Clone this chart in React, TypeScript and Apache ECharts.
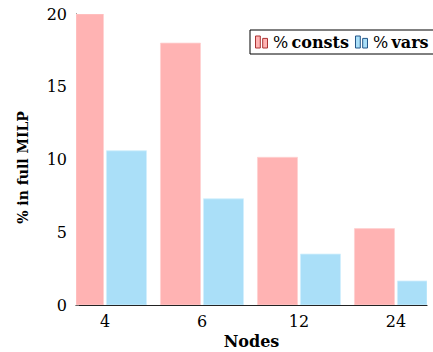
import React, { useEffect, useRef } from "react";
import * as echarts from "echarts";

const categories = ["4", "6", "12", "24"];
const constsValues = [20, 18, 10.15, 5.25];
const varsValues = [10.6, 7.3, 3.5, 1.65];
const yTicks = [0, 5, 10, 15, 20];

const PINK = "#FFB3B3";
const BLUE = "#AADFF8";
const FONT = "DejaVu Serif";
const BAR_W = 40;
const HALF_GAP = 1.5;

function makeRenderer(side: number) {
  return (params: any, api: any) => {
    const x = api.value(0);
    const y = api.value(1);
    const base = api.coord([x, 0]);
    const top = api.coord([x, y]);
    const left = side < 0 ? base[0] - HALF_GAP - BAR_W : base[0] + HALF_GAP;
    const cs = params.coordSys;
    const shape = echarts.graphic.clipRectByRect(
      { x: left, y: top[1], width: BAR_W, height: base[1] - top[1] },
      { x: cs.x, y: cs.y - 1, width: cs.width, height: cs.height + 2 }
    );
    if (!shape) return null;
    return { type: "rect", shape, style: api.style() };
  };
}

export default function App() {
  const ref = useRef<HTMLDivElement>(null);
  useEffect(() => {
    if (!ref.current) return;
    const chart = echarts.init(ref.current, null, { renderer: "svg" });
    const idx = categories.map((_, i) => i);
    chart.setOption({
      animation: false,
      grid: { left: 76, right: 6, top: 14, bottom: 47, containLabel: false, outerBoundsMode: "none" },
      legend: {
        left: 250,
        top: 30,
        width: 260,
        orient: "horizontal",
        padding: [4, 6, 4, 5],
        itemGap: 6,
        itemWidth: 13,
        itemHeight: 12,
        borderColor: "#000",
        borderWidth: 1,
        borderRadius: 0,
        icon: "path://M0,0H4V10H0Z M6,2H10V10H6Z",
        data: [
          { name: "consts", itemStyle: { color: PINK, borderColor: "#a33", borderWidth: 1 } },
          { name: "vars", itemStyle: { color: BLUE, borderColor: "#258", borderWidth: 1 } },
        ],
        formatter: (n: string) => `{p|%} {b|${n}}`,
        textStyle: {
          padding: [0, 0, 0, 0],
          rich: {
            p: { fontFamily: FONT, fontSize: 16, color: "#000", fontWeight: "normal" },
            b: { fontFamily: FONT, fontSize: 16, color: "#000", fontWeight: "bold" },
          },
        },
      },
      xAxis: {
        type: "value",
        min: -0.299,
        max: 3.32,
        name: "Nodes",
        nameLocation: "middle",
        nameGap: 27,
        nameTextStyle: { fontFamily: FONT, fontSize: 16, fontWeight: "bold", color: "#000" },
        splitLine: { show: false },
        axisLine: { show: true, onZero: false, lineStyle: { color: "#222", width: 1.2 } },
        axisTick: { show: false },
        axisLabel: {
          customValues: idx,
          formatter: (v: number) => categories[Math.round(v)] ?? "",
          fontFamily: FONT,
          fontSize: 16,
          color: "#000",
          margin: 8,
        },
      },
      yAxis: {
        type: "value",
        min: 0,
        max: 20,
        interval: 5,
        name: "% in full MILP",
        nameLocation: "middle",
        nameGap: 46,
        nameTextStyle: { fontFamily: FONT, fontSize: 14, fontWeight: "bold", color: "#000", padding: [0, 16, 0, 0] },
        splitLine: { show: false },
        axisLine: { show: true, onZero: false, lineStyle: { color: "#222", width: 1 } },
        axisTick: { show: true, inside: true, length: 3, lineStyle: { color: "#666" } },
        axisLabel: {
          customValues: yTicks,
          fontFamily: FONT,
          fontSize: 16,
          color: "#000",
          margin: 9,
        },
      },
      series: [
        {
          name: "consts",
          type: "custom",
          renderItem: makeRenderer(-1),
          data: constsValues.map((v, i) => [idx[i], v]),
          encode: { x: 0, y: 1 },
          itemStyle: { color: PINK, borderColor: "#FFD0D0", borderWidth: 0.8 },
          clip: true,
          z: 2,
        },
        {
          name: "vars",
          type: "custom",
          renderItem: makeRenderer(1),
          data: varsValues.map((v, i) => [idx[i], v]),
          encode: { x: 0, y: 1 },
          itemStyle: { color: BLUE, borderColor: "#D0EFFC", borderWidth: 0.8 },
          clip: true,
          z: 2,
        },
      ],
    });
    return () => chart.dispose();
  }, []);
  return <div ref={ref} style={{ width: 433, height: 352, position: "absolute", left: 0, top: 0 }} />;
}
